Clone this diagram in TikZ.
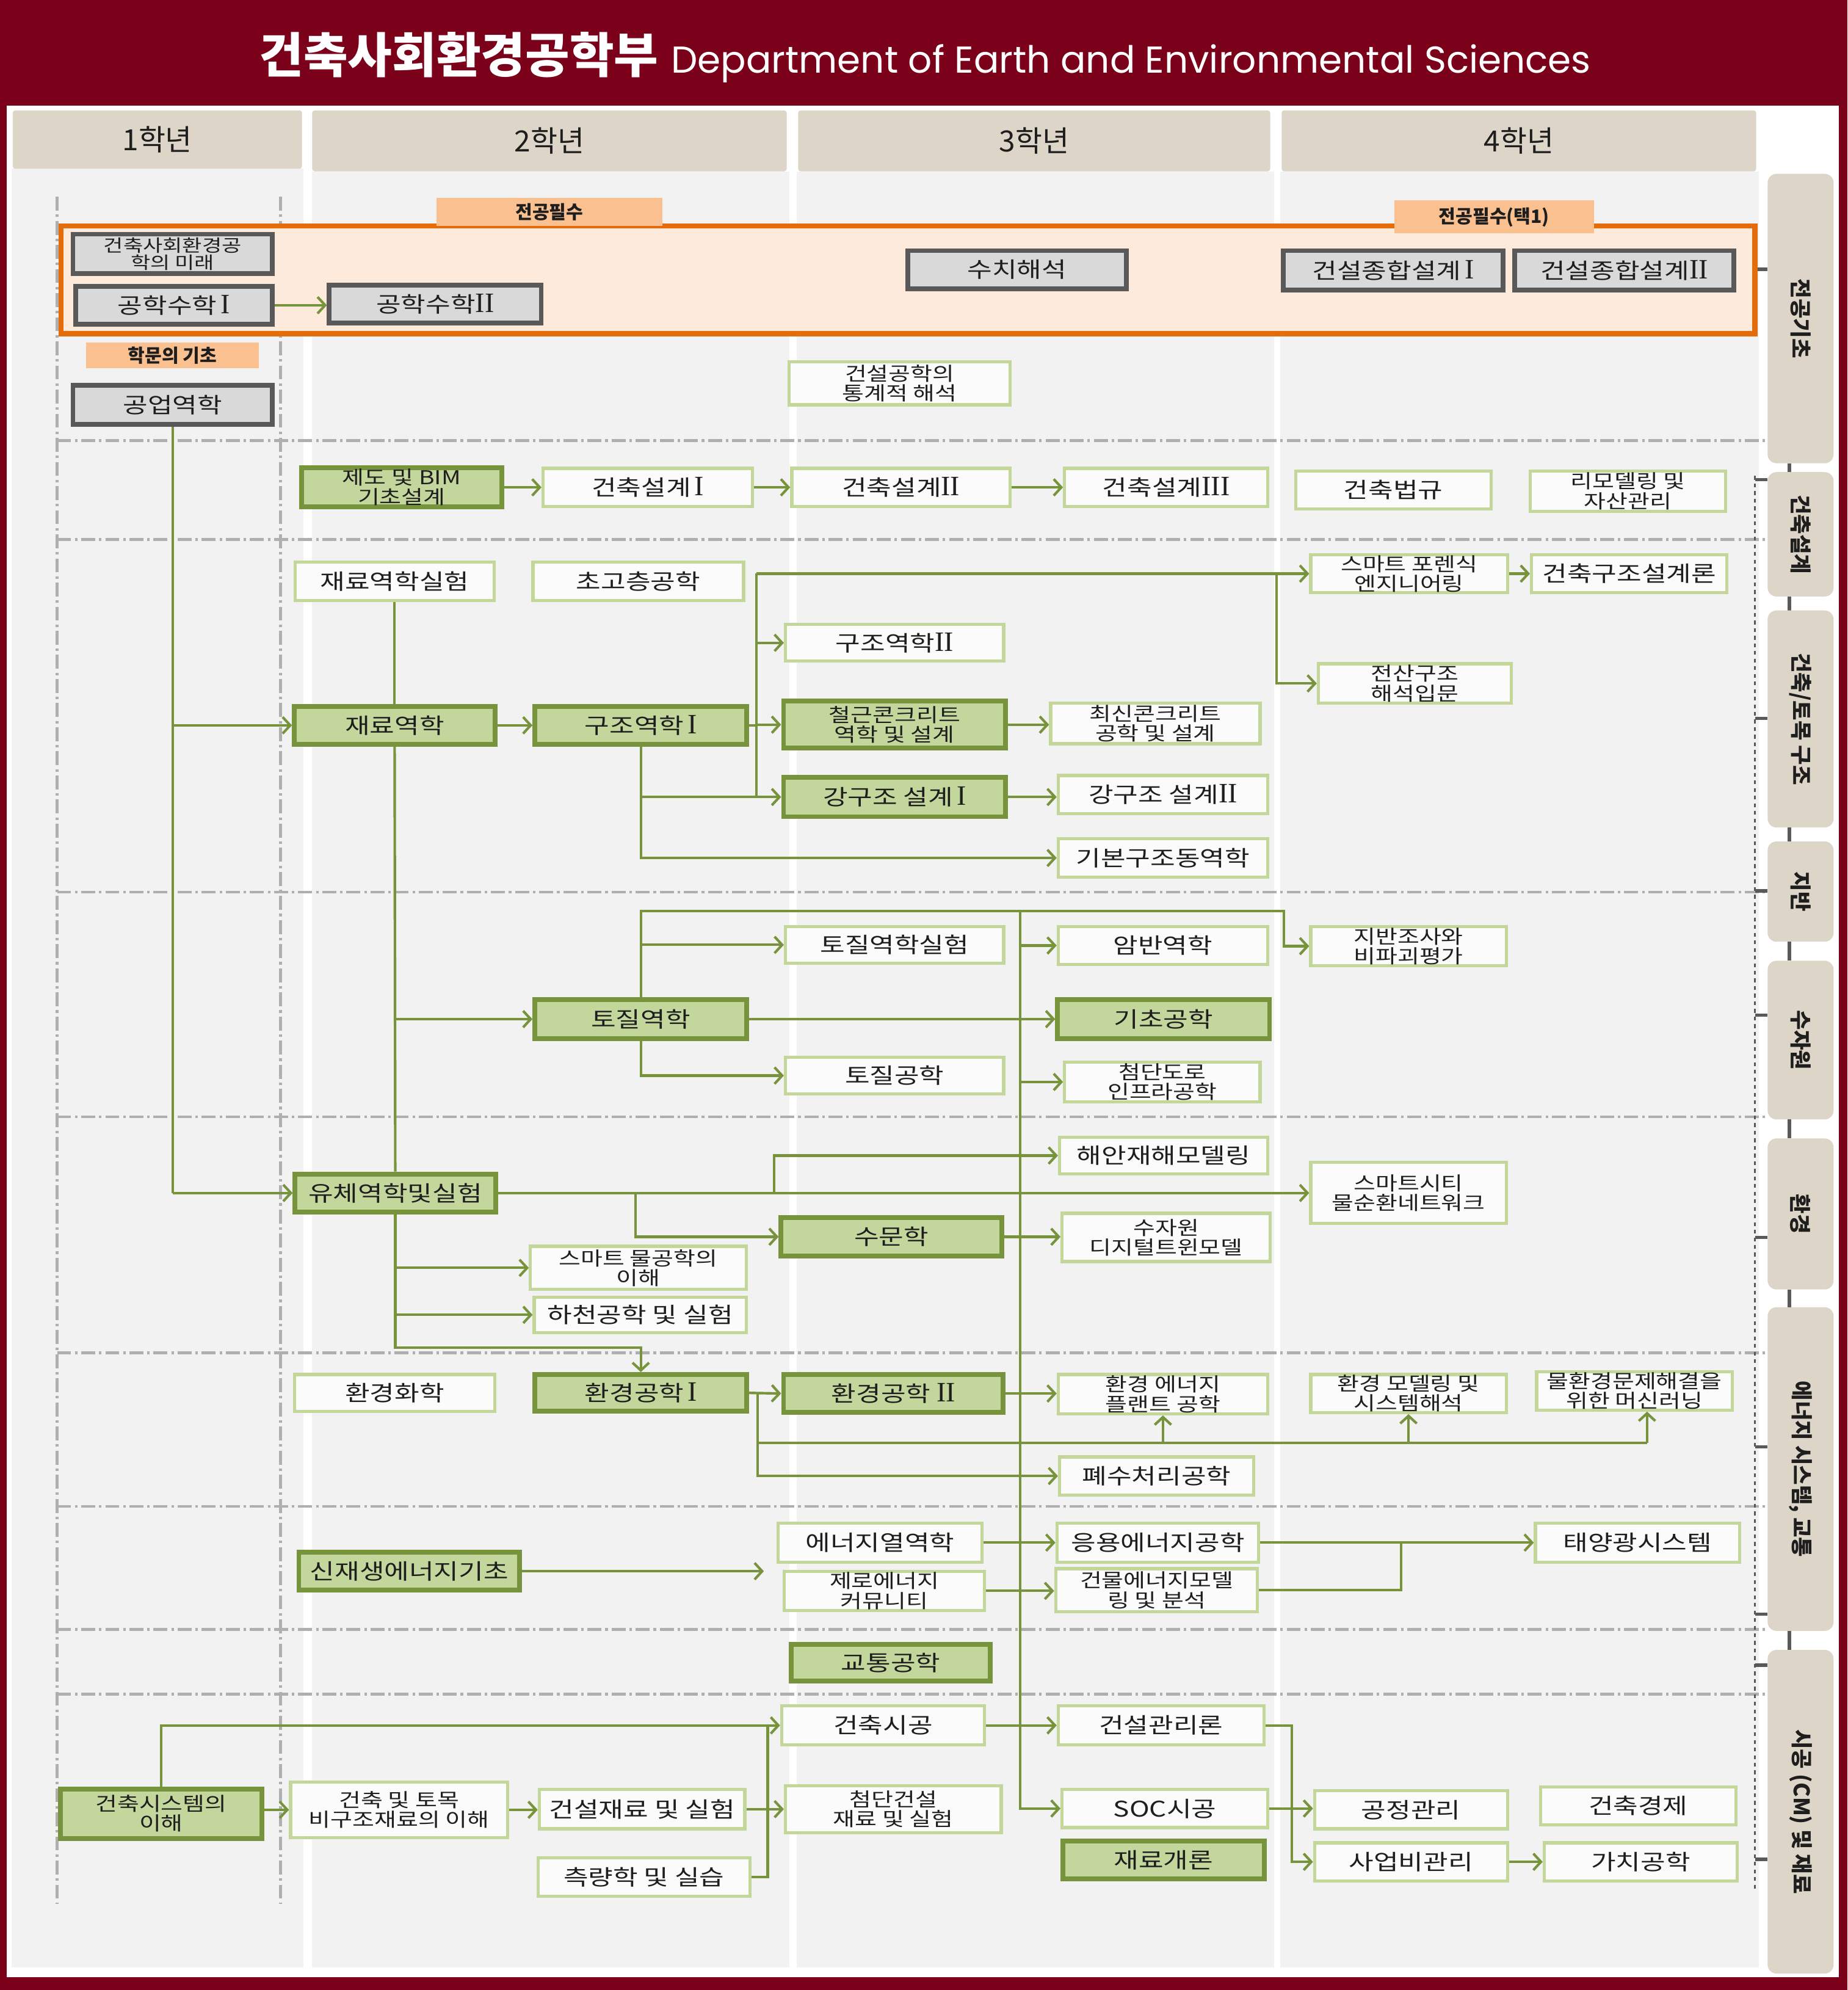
\documentclass[tikz,border=0pt]{standalone}
\usepackage{fontspec}
\setmainfont{Noto Sans CJK KR}
\newfontfamily\kw[FakeStretch=1.25]{Noto Sans CJK KR}
\newfontfamily\popp{Poppins}
\newfontfamily\romf[Scale=1.3]{Liberation Serif}
\newcommand\rnI{{\romf I}}
\newcommand\rnII{{\romf II}}
\newcommand\rnIII{{\romf III}}
\usetikzlibrary{arrows.meta,calc}
\definecolor{darkred}{RGB}{123,0,26}
\definecolor{colbg}{RGB}{242,242,242}
\definecolor{beige}{RGB}{221,214,200}
\definecolor{gfill}{RGB}{217,217,217}
\definecolor{gdraw}{RGB}{89,89,89}
\definecolor{mfill}{RGB}{195,214,155}
\definecolor{mdraw}{RGB}{119,147,60}
\definecolor{ldraw}{RGB}{196,215,155}
\definecolor{lfill}{RGB}{251,251,251}
\definecolor{ofill}{RGB}{253,234,218}
\definecolor{odraw}{RGB}{228,108,10}
\definecolor{olab}{RGB}{250,192,143}
\definecolor{arrc}{RGB}{119,147,60}
\definecolor{sepc}{RGB}{175,175,175}
\definecolor{txt}{RGB}{30,30,30}
\tikzset{
  base/.style={rectangle, inner sep=0pt, align=center, text=txt, font=\kw\fontsize{17}{18}\selectfont},
  gbox/.style={base, fill=gfill, draw=gdraw, line width=3.8pt},
  mbox/.style={base, fill=mfill, draw=mdraw, line width=3.8pt},
  lbox/.style={base, fill=lfill, draw=ldraw, line width=2.5pt},
  two/.style={font=\kw\fontsize{15}{15.5}\selectfont},
  arr/.style={draw=arrc, line width=2pt, -{Straight Barb[length=6pt,width=13pt]}},
  ln/.style={draw=arrc, line width=2pt},
  sep/.style={draw=sepc, line width=2.2pt, dash pattern=on 11pt off 3pt on 2pt off 3pt},
  olabel/.style={fill=olab, inner sep=0pt, text=txt, font=\bfseries\fontsize{14.5}{15}\selectfont},
  hdr/.style={fill=beige, rounded corners=2pt, inner sep=0pt, text=txt, font=\fontsize{23}{24}\selectfont},
  side/.style={fill=beige, rounded corners=7pt, inner sep=0pt, text=txt, font=\bfseries\fontsize{17}{18}\selectfont},
}
\newcommand\mynode[7]{\node[#1, minimum width=#5pt, minimum height=#6pt] (#2) at (#3,#4) {#7};}
\begin{document}
\begin{tikzpicture}[x=1pt,y=-1pt]
\useasboundingbox (0,0) rectangle (1456,1568);
\fill[darkred] (0,0) rectangle (1456,1568);
\fill[white] (5.5,83) rectangle (1449,1558);
% column backgrounds
\fill[colbg] (9,133) rectangle (239,1550);
\fill[colbg] (246,135) rectangle (622,1550);
\fill[colbg] (628,135) rectangle (1004,1550);
\fill[colbg] (1009,135) rectangle (1386,1550);
% title
\node[text=white, inner sep=0pt] (title) at (729,45) {{\fontsize{38}{40}\selectfont\bfseries 건축사회환경공학부}\hspace{10pt}{\popp\fontsize{29.5}{32}\selectfont Department of Earth and Environmental Sciences}};
% headers
\node[hdr, minimum width=228pt, minimum height=46pt] (h1) at (124,110) {1학년};
\node[hdr, minimum width=374pt, minimum height=48pt] (h2) at (433,111) {2학년};
\node[hdr, minimum width=372pt, minimum height=48pt] (h3) at (815,111) {3학년};
\node[hdr, minimum width=374pt, minimum height=48pt] (h4) at (1197,111) {4학년};
% separators
\foreach \yy in {347,425,703,880,1066,1187,1284,1335} \draw[sep] (45,\yy) -- (1392,\yy);
\draw[sep] (45,155) -- (45,1500);
\draw[sep] (221,155) -- (221,1500);
% right side
\draw[gdraw, line width=1pt, dashed] (1383,375) -- (1383,1490);
\foreach \yy in {378,566,702,800,975,1140,1272,1312,1465} \draw[gdraw, line width=2.5pt] (1383,\yy) -- (1393,\yy);
\draw[gdraw, line width=3pt] (1383,212) -- (1393,212);
\foreach \ya/\yb in {365/372,470/481,652/663,742/757,882/897,1016/1030,1285/1300} \draw[gdraw, line width=3pt] (1410,\ya) -- (1410,\yb);
\node[side, rotate=-90, minimum width=228pt, minimum height=52pt] (s1) at (1419,251) {전공기초};
\node[side, rotate=-90, minimum width=98pt, minimum height=52pt] (s2) at (1419,421) {건축설계};
\node[side, rotate=-90, minimum width=171pt, minimum height=52pt] (s3) at (1419,566.5) {건축/토목 구조};
\node[side, rotate=-90, minimum width=79pt, minimum height=52pt] (s4) at (1419,702.5) {지반};
\node[side, rotate=-90, minimum width=125pt, minimum height=52pt] (s5) at (1419,819.5) {수자원};
\node[side, rotate=-90, minimum width=119pt, minimum height=52pt] (s6) at (1419,956.5) {환경};
\node[side, rotate=-90, minimum width=255pt, minimum height=52pt] (s7) at (1419,1157.5) {에너지 시스템, 교통};
\node[side, rotate=-90, minimum width=255pt, minimum height=52pt] (s8) at (1419,1427.5) {시공 (CM) 및 재료};
% orange block
\draw[fill=ofill, draw=odraw, line width=4pt] (48,178) rectangle (1383,263);
\node[olabel, minimum width=178pt, minimum height=22pt] (lab1) at (433,167) {전공필수};
\node[olabel, minimum width=157pt, minimum height=26pt] (lab2) at (1177.5,171) {전공필수(택1)};
\node[olabel, minimum width=136pt, minimum height=20pt] (lab3) at (136,280) {학문의 기초};
% gray boxes
\mynode{gbox,font=\kw\fontsize{13.5}{13.5}\selectfont}{mirae}{136}{200}{157}{31}{건축사회환경공\\학의 미래}
\mynode{gbox}{math1}{137}{240.5}{155}{30}{공학수학\,\rnI}
\mynode{gbox}{math2}{343}{239.5}{167}{30}{공학수학\rnII}
\mynode{gbox}{suchi}{801.5}{212.5}{172}{30}{수치해석}
\mynode{gbox}{jh1}{1098}{213}{173}{31}{건설종합설계\,\rnI}
\mynode{gbox}{jh2}{1280}{213}{173}{31}{건설종합설계\rnII}
\mynode{gbox}{gongup}{136}{319}{157}{31}{공업역학}
\mynode{lbox,two}{tonggye}{709}{302}{174}{34}{건설공학의\\통계적 해석}
% design row
\mynode{mbox,two}{jedo}{316.5}{384}{158}{31}{제도 및 BIM\\기초설계}
\mynode{lbox}{sg1}{510.5}{384}{165}{30}{건축설계\,\rnI}
\mynode{lbox}{sg2}{710}{384}{172}{30}{건축설계\rnII}
\mynode{lbox}{sg3}{919}{384}{160}{30}{건축설계\rnIII}
\mynode{lbox}{beopgyu}{1098}{386}{154}{30}{건축법규}
\mynode{lbox,two}{remodel}{1283}{387}{154}{32}{리모델링 및\\자산관리}
% structure row
\mynode{lbox}{jaesil}{311}{458}{157}{30}{재료역학실험}
\mynode{lbox}{chogo}{503}{458}{166}{30}{초고층공학}
\mynode{mbox}{jaeryo}{311}{571.5}{158}{30}{재료역학}
\mynode{mbox}{gujo1}{505}{571.5}{167}{30}{구조역학\,\rnI}
\mynode{lbox}{gujo2}{705}{506.5}{172}{29}{구조역학\rnII}
\mynode{mbox,two}{cheolgeun}{705}{571}{175}{37}{철근콘크리트\\역학 및 설계}
\mynode{mbox}{gang1}{705}{628}{175}{31}{강구조 설계\,\rnI}
\mynode{lbox,two}{choesin}{910.5}{570}{165}{32}{최신콘크리트\\공학 및 설계}
\mynode{lbox}{gang2}{916.5}{626}{165}{30}{강구조 설계\rnII}
\mynode{lbox}{dongyeok}{916.5}{676}{165}{30}{기본구조동역학}
\mynode{lbox,two}{forensic}{1110.5}{452}{155}{30}{스마트 포렌식\\엔지니어링}
\mynode{lbox}{gjsg}{1284}{452}{154}{30}{건축구조설계론}
\mynode{lbox,two}{jeonsan}{1115}{538.5}{152}{31}{전산구조\\해석입문}
% geotech row
\mynode{mbox}{toji}{505}{803}{167}{31}{토질역학}
\mynode{lbox}{tojisil}{705}{744.5}{172}{29}{토질역학실험}
\mynode{lbox}{tojigong}{705}{847.5}{172}{29}{토질공학}
\mynode{lbox}{amban}{916.5}{745}{165}{30}{암반역학}
\mynode{mbox}{gicho}{917}{803}{167}{31}{기초공학}
\mynode{lbox,two}{cheomdo}{916}{852.5}{154}{31}{첨단도로\\인프라공학}
\mynode{lbox,two}{jiban}{1110}{745.5}{154}{31}{지반조사와\\비파괴평가}
% water row
\mynode{mbox}{yuche}{311.5}{940}{158}{30}{유체역학및실험}
\mynode{lbox}{haean}{917}{910.5}{164}{29}{해안재해모델링}
\mynode{lbox,two}{smartcity}{1110}{940}{154}{48}{스마트시티\\물순환네트워크}
\mynode{mbox}{sumun}{702.5}{974.5}{174}{30}{수문학}
\mynode{lbox,two}{twin}{919}{975}{164}{38}{수자원\\디지털트윈모델}
\mynode{lbox,two}{smartmul}{503}{999}{170}{34}{스마트 물공학의\\이해}
\mynode{lbox}{hacheon}{504.5}{1036}{167}{28}{하천공학 및 실험}
% environment row
\mynode{lbox}{envchem}{311}{1097.5}{158}{29}{환경화학}
\mynode{mbox}{env1}{505}{1097.5}{167}{29}{환경공학\,\rnI}
\mynode{mbox}{env2}{704}{1098}{173}{30}{환경공학 \rnII}
\mynode{lbox,two}{plant}{916.5}{1098.5}{165}{31}{환경 에너지\\플랜트 공학}
\mynode{lbox,two}{model}{1110}{1098}{154}{30}{환경 모델링 및\\시스템해석}
\mynode{lbox,two}{mlearn}{1288}{1096}{154}{30}{물환경문제해결을\\위한 머신러닝}
\mynode{lbox}{pyesu}{911.5}{1163}{153}{30}{폐수처리공학}
% energy row
\mynode{mbox}{renew}{322.5}{1238}{174}{30}{신재생에너지기초}
\mynode{lbox}{yeol}{693.5}{1215.5}{161}{31}{에너지열역학}
\mynode{lbox,two}{zero}{697}{1253.5}{158}{31}{제로에너지\\커뮤니티}
\mynode{lbox}{eungyong}{912.5}{1215.5}{159}{31}{응용에너지공학}
\mynode{lbox,two}{building}{911.5}{1253}{159}{34}{건물에너지모델\\링 및 분석}
\mynode{lbox}{solar}{1290.5}{1215.5}{161}{31}{태양광시스템}
\mynode{mbox}{gyotong}{702}{1310}{157}{29}{교통공학}
% construction row
\mynode{mbox,two}{sys}{127}{1429}{159}{39}{건축시스템의\\이해}
\mynode{lbox,two}{bigujo}{314.5}{1426}{171}{44}{건축 및 토목\\비구조재료의 이해}
\mynode{lbox}{geonjae}{506}{1425.5}{162}{31}{건설재료 및 실험}
\mynode{lbox}{survey}{507.5}{1479}{167}{30}{측량학 및 실습}
\mynode{lbox}{sigong}{696}{1359.5}{160}{31}{건축시공}
\mynode{lbox,two}{cheomgeon}{704}{1425.5}{170}{37}{첨단건설\\재료 및 실험}
\mynode{lbox}{gwanri}{915}{1359.5}{162}{31}{건설관리론}
\mynode{lbox}{soc}{918}{1425}{162}{30}{SOC시공}
\mynode{mbox}{jaeryogae}{917}{1465.5}{159}{30}{재료개론}
\mynode{lbox}{gongjeong}{1112}{1426}{152}{30}{공정관리}
\mynode{lbox}{saeop}{1112}{1467}{152}{30}{사업비관리}
\mynode{lbox}{gyeongje}{1291}{1423}{154}{30}{건축경제}
\mynode{lbox}{gachi}{1293}{1467}{152}{30}{가치공학}
% ---------- connectors ----------
\draw[arr] (math1.east) -- (math1.east -| math2.west);
\draw[ln] (gongup.south) -- (gongup.south |- yuche);
\draw[arr] (gongup.south |- jaeryo) -- (jaeryo.west);
\draw[arr] (gongup.south |- yuche) -- (yuche.west);
\draw[arr] (jedo.east) -- (sg1.west);
\draw[arr] (sg1.east) -- (sg2.west);
\draw[arr] (sg2.east) -- (sg3.west);
\draw[ln] (jaesil.south) -- (jaeryo.north);
\draw[arr] (jaeryo.east) -- (gujo1.west);
\draw[ln] (jaeryo.south) -- (yuche.north);
\draw[arr] (jaeryo.south |- toji) -- (toji.west);
% structure
\coordinate (tA) at (596,452);
\coordinate (tB) at (596,628);
\draw[ln] (tA) -- (tB);
\draw[ln] (gujo1.east) -- (gujo1.east -| tA);
\draw[arr] (tA) -- (forensic.west);
\draw[arr] (tA |- gujo2) -- (gujo2.west);
\draw[arr] (tA |- cheolgeun) -- (cheolgeun.west);
\draw[arr] (gujo1.south) |- (dongyeok.west);
\draw[arr] (gujo1.south |- gang1) -- (gang1.west);
\coordinate (fj) at (1006,452);
\draw[arr] (fj) |- (jeonsan.west);
\draw[arr] (forensic.east) -- (gjsg.west);
\draw[arr] (cheolgeun.east) -- (cheolgeun.east -| choesin.west);
\draw[arr] (gang1.east) -- (gang1.east -| gang2.west);
% geotech
\coordinate (jj) at (1012,718);
\draw[arr] (toji.north) |- (jj) |- (jiban.west);
\draw[arr] (toji.north |- tojisil) -- (tojisil.west);
\draw[arr] (toji.south) |- (tojigong.west);
\draw[arr] (toji.east) -- (gicho.west);
\coordinate (vT) at (804,718);
\draw[arr] (vT) |- (soc.west);
\draw[arr] (vT |- amban) -- (amban.west);
\draw[arr] (vT |- cheomdo) -- (cheomdo.west);
% water
\coordinate (yj) at (610,940);
\draw[arr] (yuche.east) -- (yj) |- (haean.west);
\draw[arr] (yuche.east) -- (smartcity.west);
\coordinate (yk) at (501,940);
\draw[arr] (yk) |- (sumun.west);
\draw[arr] (sumun.east) -- (sumun.east -| twin.west);
\coordinate (ye) at (505,1062);
\draw[arr] (yuche.south) |- (ye) -- (env1.north);
\draw[arr] (yuche.south |- smartmul) -- (smartmul.west);
\draw[arr] (yuche.south |- hacheon) -- (hacheon.west);
% environment
\draw[arr] (env1.east) -- (env2.west);
\draw[arr] (env2.east) -- (env2.east -| plant.west);
\coordinate (ej) at (597,1098);
\draw[arr] (ej) |- (pyesu.west);
\coordinate (eh) at (597,1137);
\coordinate (mlx) at (1298,1137);
\draw[ln] (eh) -- (mlx);
\draw[arr] (eh -| plant.south) -- (plant.south);
\draw[arr] (eh -| model.south) -- (model.south);
\draw[arr] (mlx) -- (mlx |- mlearn.south);
% energy
\coordinate (rEnd) at (602,1238);
\draw[arr] (renew.east) -- (rEnd);
\draw[arr] (yeol.east) -- (eungyong.west);
\draw[arr] (zero.east) -- (zero.east -| building.west);
\draw[arr] (eungyong.east) -- (solar.west);
\coordinate (bj) at (1104,1215.5);
\draw[ln] (building.east) -| (bj);
% construction
\draw[arr] (sys.north) |- (sigong.west);
\draw[arr] (sys.east |- bigujo.west) -- (bigujo.west);
\draw[arr] (bigujo.east) -- (bigujo.east -| geonjae.west);
\draw[arr] (geonjae.east) -- (geonjae.east -| cheomgeon.west);
\coordinate (sv) at (605,1359.5);
\draw[ln] (survey.east) -| (sv);
\draw[arr] (sigong.east) -- (gwanri.west);
\coordinate (gj) at (1018,1359.5);
\draw[arr] (gwanri.east) -- (gj) |- (saeop.west);
\draw[arr] (soc.east) -- (soc.east -| gongjeong.west);
\draw[arr] (saeop.east) -- (gachi.west);
\end{tikzpicture}
\end{document}
